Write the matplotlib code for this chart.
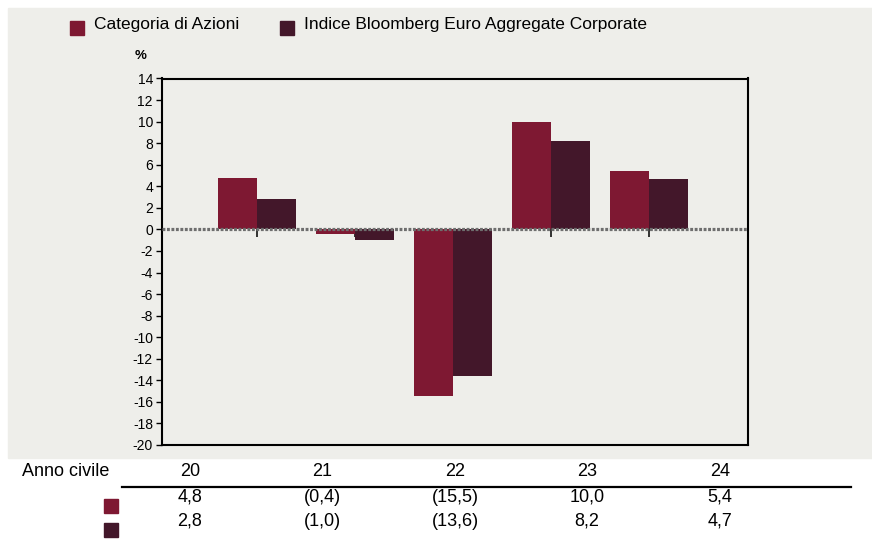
import numpy as np
import matplotlib
matplotlib.use("Agg")
import matplotlib.pyplot as plt
from matplotlib.patches import Rectangle

plt.rcParams['font.family'] = ['Liberation Sans Narrow', 'Liberation Sans', 'DejaVu Sans']

# dati
anni = ['20', '21', '22', '23', '24']
categoria = [4.8, -0.4, -15.5, 10.0, 5.4]
indice = [2.8, -1.0, -13.6, 8.2, 4.7]
nomi = ['Categoria di Azioni', 'Indice Bloomberg Euro Aggregate Corporate']
yticks = list(range(-20, 15, 2))

col1 = '#7e1832'
col2 = '#43172a'
bg = '#eeeeea'


def fmt(v):
    s = ('%.1f' % abs(v)).replace('.', ',')
    return '(%s)' % s if v < 0 else s


fig = plt.figure(figsize=(8.72, 5.39), dpi=100, facecolor='white')
# pannello grigio dietro al grafico
fig.patches.append(Rectangle((8 / 872, 1 - 458 / 539), 1, 450 / 539,
                             transform=fig.transFigure, color=bg, zorder=-5))

ax = fig.add_axes([162 / 872, 1 - 445 / 539, 586 / 872, 366.5 / 539])
ax.set_facecolor(bg)

x = np.arange(1, len(anni) + 1)
w = 0.4
ax.bar(x - w / 2, categoria, w, color=col1, zorder=2)
ax.bar(x + w / 2, indice, w, color=col2, zorder=2)

ax.set_xlim(0.03, 6.01)
ax.set_ylim(-20, 14)
ax.set_yticks(yticks)
ax.set_yticklabels([str(t) for t in yticks], fontsize=10)
ax.tick_params(axis='y', direction='out', length=4, width=1, pad=2.5)

# linea dello zero tratteggiata + tacche sotto
ax.spines['bottom'].set_position(('data', 0))
ax.spines['bottom'].set_color('none')
ax.axhline(0, color='#6e6e6e', lw=2.3, dashes=(0.9, 0.5), zorder=3)
ax.set_xticks(x)
ax.set_xticklabels([])
ax.tick_params(axis='x', direction='out', length=5.5, width=1.2, color='#111111')
for s in ['left', 'right', 'top']:
    ax.spines[s].set_linewidth(1.5)
    ax.spines[s].set_color('black')
ax.plot([0, 1], [0, 0], transform=ax.transAxes, color='black', lw=1.5,
        clip_on=False, zorder=4)

ax.text(-0.036, 1.045, '%', transform=ax.transAxes, fontsize=9.5,
        fontweight='bold', ha='center', va='bottom')

# legenda
leg_x = [70, 280]
for lx, nome, c in zip(leg_x, nomi, [col1, col2]):
    fig.patches.append(Rectangle((lx / 872, 1 - 35 / 539), 14 / 872, 14 / 539,
                                 transform=fig.transFigure, color=c))
    fig.text((lx + 24) / 872, 1 - 25 / 539, nome, fontsize=12.5,
             va='center', ha='left')

# tabella sotto il grafico
col_x = [190, 322, 455, 587, 720]
fig.text(22 / 872, 1 - 472 / 539, 'Anno civile', fontsize=13, va='center')
for cx, a in zip(col_x, anni):
    fig.text(cx / 872, 1 - 472 / 539, a, fontsize=13, va='center', ha='center')
fig.add_artist(plt.Line2D([122 / 872, 851 / 872], [1 - 487 / 539, 1 - 487 / 539],
                          color='black', lw=1.6))
for ry, serie, c in zip([497, 521], [categoria, indice], [col1, col2]):
    fig.patches.append(Rectangle((104 / 872, 1 - (ry + 16) / 539), 14 / 872, 14 / 539,
                                 transform=fig.transFigure, color=c))
    for cx, v in zip(col_x, serie):
        fig.text(cx / 872, 1 - ry / 539, fmt(v), fontsize=13,
                 va='center', ha='center')

fig.savefig('out.png', dpi=100, facecolor='white')
